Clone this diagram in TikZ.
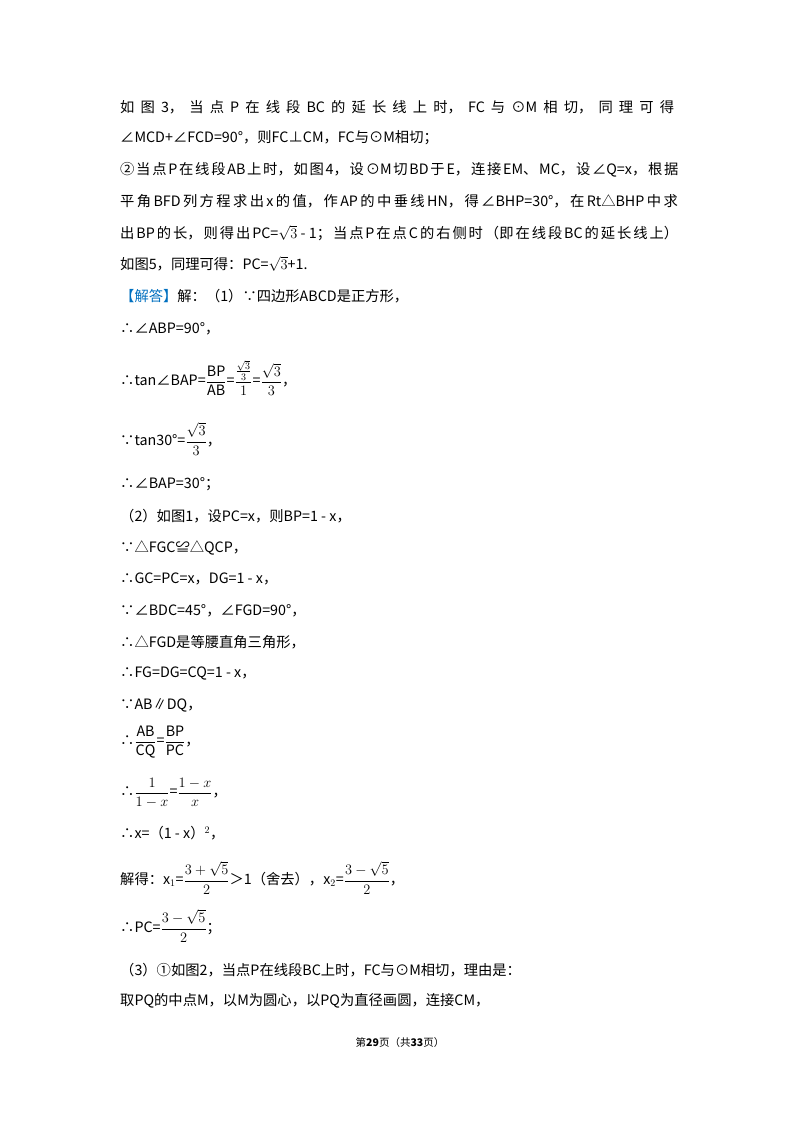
\documentclass[tikz,border=0pt]{standalone}
\usepackage{fontspec}
\setmainfont{Noto Sans CJK SC}
\usepackage{amsmath}
\XeTeXlinebreaklocale "zh"
\XeTeXlinebreakskip=0pt plus 1fil
\definecolor{jieda}{RGB}{0,112,192}
\newcommand{\jline}[1]{\parfillskip=0pt #1}
\begin{document}
\begin{tikzpicture}[x=1pt,y=-1pt,
  ln/.style={anchor=west,inner sep=0pt,font=\fontsize{14.3}{16}\selectfont},
  jl/.style={ln,text width=560pt,align=justify}]
\useasboundingbox[fill=white] (0,0) rectangle (800,1132);
\node[jl] (l1) at (120,107) {\jline{如图3，当点P在线段BC的延长线上时，FC与⊙M相切，同理可得}};
\node[ln] (l2) at (120,138) {∠MCD+∠FCD=90°，则FC⊥CM，FC与⊙M相切；};
\node[jl] (l3) at (120,170) {\jline{②当点P在线段AB上时，如图4，设⊙M切BD于E，连接EM、MC，设∠Q=x，根据}};
\node[jl] (l4) at (120,201) {\jline{平角BFD列方程求出x的值，作AP的中垂线HN，得∠BHP=30°，在Rt△BHP中求}};
\node[jl] (l5) at (120,233) {\jline{出BP的长，则得出PC=$\sqrt{3}$ - 1；当点P在点C的右侧时（即在线段BC的延长线上）}};
\node[ln] (l6) at (120,264) {如图5，同理可得：PC=$\sqrt{3}$+1.};
\node[ln] (l7) at (120,296) {{\color{jieda}【解答】}解：（1）∵四边形ABCD是正方形，};
\node[ln] (l8) at (120,329) {∴∠ABP=90°，};
\node[ln] (l9) at (120,378) {∴tan∠BAP=$\dfrac{\mathrm{BP}}{\mathrm{AB}}$=$\dfrac{\frac{\sqrt{3}}{3}}{1}$=$\dfrac{\sqrt{3}}{3}$，};
\node[ln] (l10) at (120,439) {∵tan30°=$\dfrac{\sqrt{3}}{3}$，};
\node[ln] (l11) at (120,484) {∴∠BAP=30°；};
\node[ln] (l12) at (120,516) {（2）如图1，设PC=x，则BP=1 - x，};
\node[ln] (l13) at (120,548) {∵△FGC≌△QCP，};
\node[ln] (l14) at (120,579) {∴GC=PC=x，DG=1 - x，};
\node[ln] (l15) at (120,611) {∵∠BDC=45°，∠FGD=90°，};
\node[ln] (l16) at (120,642) {∴△FGD是等腰直角三角形，};
\node[ln] (l17) at (120,673) {∴FG=DG=CQ=1 - x，};
\node[ln] (l18) at (120,705) {∵AB∥DQ，};
\node[ln] (l19) at (120,742) {∴$\dfrac{\mathrm{AB}}{\mathrm{CQ}}$=$\dfrac{\mathrm{BP}}{\mathrm{PC}}$，};
\node[ln] (l20) at (120,793) {∴$\dfrac{1}{1-x}$=$\dfrac{1-x}{x}$，};
\node[ln] (l21) at (120,833) {∴x=（1 - x）$^{2}$，};
\node[ln] (l22) at (120,878) {解得：x$_1$=$\dfrac{3+\sqrt{5}}{2}$＞1（舍去），x$_2$=$\dfrac{3-\sqrt{5}}{2}$，};
\node[ln] (l23) at (120,926) {∴PC=$\dfrac{3-\sqrt{5}}{2}$；};
\node[ln] (l24) at (120,970) {（3）①如图2，当点P在线段BC上时，FC与⊙M相切，理由是：};
\node[ln] (l25) at (120,1001) {取PQ的中点M，以M为圆心，以PQ为直径画圆，连接CM，};
\node[inner sep=0pt,font=\fontsize{10.5}{12}\selectfont] (ft) at (400,1042) {第\textbf{29}页（共\textbf{33}页）};
\end{tikzpicture}
\end{document}
